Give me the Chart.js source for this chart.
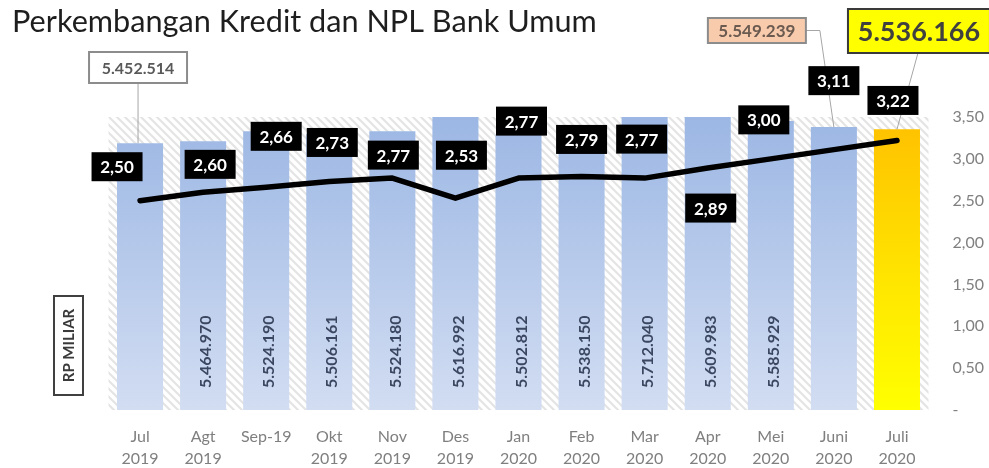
<!DOCTYPE html>
<html><head><meta charset="utf-8">
<script src="https://cdn.jsdelivr.net/npm/chart.js@4.4.1/dist/chart.umd.min.js"></script>
<style>html,body{margin:0;padding:0;background:#fff;}canvas{display:block;}</style>
</head><body>
<canvas id="c" width="989" height="468"></canvas>
<script>
// ---- data ----
const titleText = "Perkembangan Kredit dan NPL Bank Umum";
const axisNote = "RP MILIAR";
const categories = [["Jul","2019"],["Agt","2019"],["Sep-19"],["Okt","2019"],["Nov","2019"],["Des","2019"],["Jan","2020"],["Feb","2020"],["Mar","2020"],["Apr","2020"],["Mei","2020"],["Juni","2020"],["Juli","2020"]];
const kredit = [5452514,5464970,5524190,5506161,5524180,5616992,5502812,5538150,5712040,5609983,5585929,5549239,5536166];
const npl = [2.50,2.60,2.66,2.73,2.77,2.53,2.77,2.79,2.77,2.89,3.00,3.11,3.22];
const nplAxis = {min:0, max:3.5, step:0.5};
const kreditAxis = {min:3850000, max:5610000};

// ---- styling / layout ----
const FONT = "Lato, 'Open Sans', sans-serif";
const highlightIndex = 12;
const nplLabelOffset = [[-23,-34],[7,-28],[10,-51],[3,-39],[1,-23],[6,-43],[3,-57],[0,-37],[-3,-39],[3,40],[-7,-39],[0,-69],[-4,-40]];
const callouts = [
  {index:0,  dx:-2,  cy:67.5, w:98,  h:31, fill:'#ffffff', stroke:'#8c8c8c', color:'#595959', font:'bold 16px '+FONT, leader:'down'},
  {index:11, dx:-77, cy:30.5, w:98,  h:25, fill:'#f8cbad', stroke:'#8c8c8c', color:'#6b5a50', font:'bold 17px '+FONT, leader:'side'},
  {index:12, dx:22,  cy:31,   w:142, h:44, fill:'#ffff00', stroke:'#3a3a3a', color:'#404040', font:'bold 27px '+FONT, leader:'diag'}
];

const fmtThousands = n => String(n).replace(/\B(?=(\d{3})+(?!\d))/g, '.');
const fmtDec = v => v.toFixed(2).replace('.', ',');

function makeHatch(ctx){
  const p = document.createElement('canvas'); p.width = 8; p.height = 8;
  const g = p.getContext('2d');
  g.fillStyle = '#ffffff'; g.fillRect(0,0,8,8);
  g.strokeStyle = '#e4e4e4'; g.lineWidth = 2.2;
  g.beginPath();
  g.moveTo(-2,-2); g.lineTo(10,10);
  g.moveTo(-2,6); g.lineTo(2,10);
  g.moveTo(6,-2); g.lineTo(10,2);
  g.stroke();
  return ctx.createPattern(p,'repeat');
}

const decor = {
  id:'decor',
  beforeDatasetsDraw(chart){
    const {ctx, chartArea:a} = chart;
    ctx.save();
    ctx.fillStyle = makeHatch(ctx);
    ctx.fillRect(a.left, a.top, a.right-a.left, a.bottom-a.top);
    ctx.restore();
  },
  afterDatasetsDraw(chart){
    const {ctx, chartArea:a} = chart;
    const bars = chart.getDatasetMeta(1).data;
    const pts = chart.getDatasetMeta(0).data;
    const calloutIdx = callouts.map(c=>c.index);
    ctx.save();
    // rotated values inside bars
    bars.forEach((b,i)=>{
      if (calloutIdx.includes(i)) return;
      ctx.save();
      ctx.translate(b.x+3, a.bottom-22);
      ctx.rotate(-Math.PI/2);
      ctx.font = 'bold 16px '+FONT;
      ctx.fillStyle = '#3b4660';
      ctx.textAlign = 'left'; ctx.textBaseline = 'middle';
      ctx.fillText(fmtThousands(kredit[i]), 0, 0);
      ctx.restore();
    });
    // callouts
    callouts.forEach(c=>{
      const b = bars[c.index];
      const top = Math.max(b.y, a.top);
      const cx = b.x + c.dx;
      const x0 = cx - c.w/2, y0 = c.cy - c.h/2;
      ctx.strokeStyle = '#a6a6a6'; ctx.lineWidth = 1;
      ctx.beginPath();
      if (c.leader === 'down'){ ctx.moveTo(cx, y0+c.h); ctx.lineTo(cx, top); }
      else if (c.leader === 'side'){ ctx.moveTo(x0+c.w, c.cy); ctx.lineTo(x0+c.w+14, c.cy); ctx.lineTo(b.x, top); }
      else { ctx.moveTo(cx-1, y0+c.h); ctx.lineTo(b.x, top); }
      ctx.stroke();
      ctx.fillStyle = c.fill; ctx.fillRect(x0, y0, c.w, c.h);
      ctx.strokeStyle = c.stroke; ctx.lineWidth = 2; ctx.strokeRect(x0, y0, c.w, c.h);
      ctx.fillStyle = c.color; ctx.font = c.font;
      ctx.textAlign = 'center'; ctx.textBaseline = 'middle';
      ctx.fillText(fmtThousands(kredit[c.index]), cx, c.cy+1);
    });
    // NPL labels
    pts.forEach((p,i)=>{
      const [dx,dy] = nplLabelOffset[i];
      const cx = p.x+dx, cy = p.y+dy;
      ctx.fillStyle = '#000000';
      ctx.fillRect(cx-25.5, cy-14.5, 51, 29);
      ctx.fillStyle = '#ffffff';
      ctx.font = 'bold 17px '+FONT;
      ctx.textAlign = 'center'; ctx.textBaseline = 'middle';
      ctx.fillText(fmtDec(npl[i]), cx, cy+1);
    });
    ctx.restore();
  },
  afterDraw(chart){
    const ctx = chart.ctx;
    ctx.save();
    // title, fitted to reference width
    ctx.font = '28px '+FONT;
    const w = ctx.measureText(titleText).width;
    const size = 28*585/w;
    ctx.font = size.toFixed(2)+'px '+FONT;
    ctx.fillStyle = '#1e1e1e';
    ctx.textAlign = 'left'; ctx.textBaseline = 'alphabetic';
    ctx.fillText(titleText, 12, 32);
    // RP MILIAR box
    ctx.strokeStyle = '#404040'; ctx.lineWidth = 2;
    ctx.strokeRect(54, 296, 29, 99);
    ctx.translate(68.5, 345.5);
    ctx.rotate(-Math.PI/2);
    ctx.fillStyle = '#3a3a3a';
    ctx.font = 'bold 15px '+FONT;
    ctx.textAlign = 'center'; ctx.textBaseline = 'middle';
    ctx.fillText(axisNote, 0, 1);
    ctx.restore();
  }
};

const ctx = document.getElementById('c').getContext('2d');
new Chart(ctx, {
  type:'bar',
  data:{
    labels:categories,
    datasets:[
      {type:'line', data:npl, yAxisID:'y1', order:0, borderColor:'#000000', borderWidth:5.5,
       pointRadius:0, tension:0, borderCapStyle:'round', borderJoinStyle:'round', fill:false},
      {type:'bar', data:kredit, yAxisID:'y', order:1, barPercentage:0.73, categoryPercentage:1,
       borderWidth:0,
       backgroundColor:(c)=>{
         const ch = c.chart, a = ch.chartArea;
         if (!a) return '#b4c7e7';
         const g = ch.ctx.createLinearGradient(0, a.top, 0, a.bottom);
         if (c.dataIndex === highlightIndex){ g.addColorStop(0,'#ffc000'); g.addColorStop(0.6,'#ffe800'); g.addColorStop(1,'#ffff00'); }
         else { g.addColorStop(0,'#9cb7e4'); g.addColorStop(1,'#d2ddf2'); }
         return g;
       }}
    ]
  },
  options:{
    responsive:false, animation:false,
    layout:{padding:{left:108.5, top:117, right:0, bottom:0}},
    plugins:{legend:{display:false}, tooltip:{enabled:false}, title:{display:false}},
    scales:{
      x:{grid:{display:false, drawTicks:false}, border:{display:false},
         ticks:{color:'#7f7f7f', font:{family:FONT, size:16, lineHeight:1.35}, padding:16, maxRotation:0, autoSkip:false},
         afterFit(s){ s.height = 58; }},
      y:{display:false, min:kreditAxis.min, max:kreditAxis.max},
      y1:{position:'right', min:nplAxis.min, max:nplAxis.max,
          grid:{display:false, drawTicks:false}, border:{display:false},
          ticks:{stepSize:nplAxis.step, color:'#808080', font:{family:FONT, size:16}, padding:24,
                 callback:(v)=> v === 0 ? '-' : fmtDec(v)},
          afterFit(s){ s.width = 60.5; }}
    }
  },
  plugins:[decor]
});
</script>
</body></html>
